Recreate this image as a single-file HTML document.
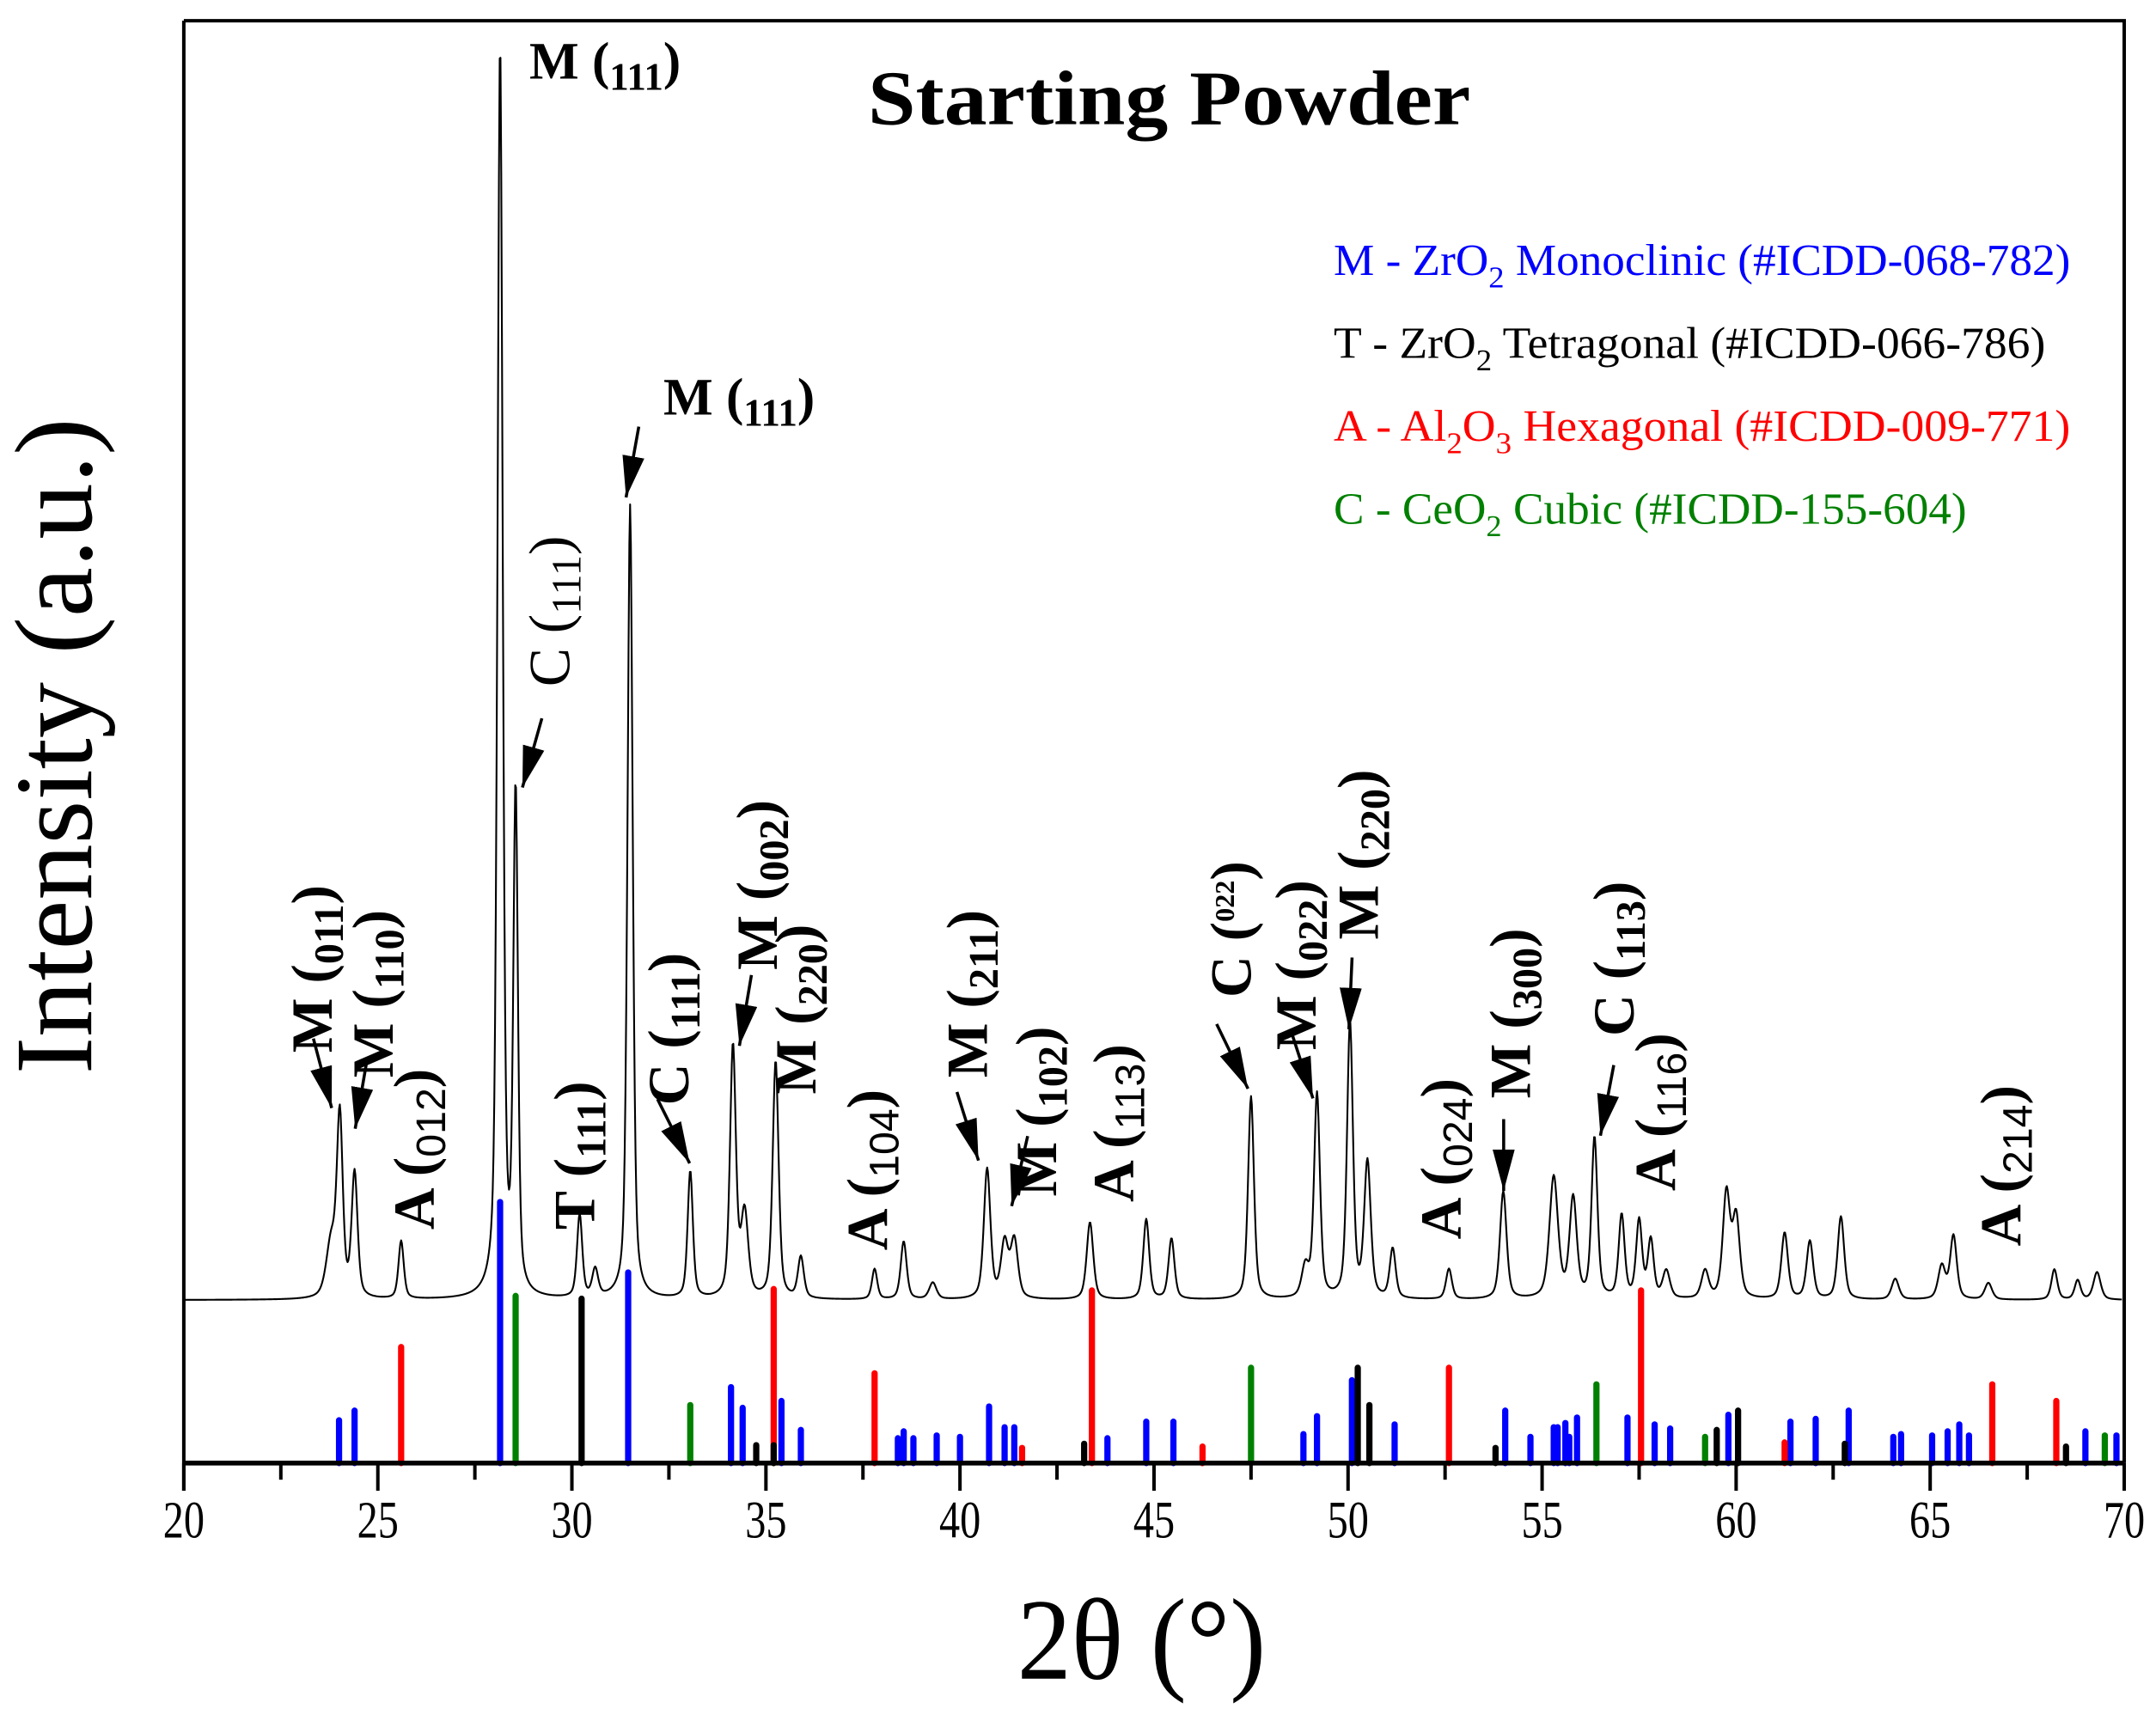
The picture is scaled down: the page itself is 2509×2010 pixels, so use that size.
<!DOCTYPE html>
<html><head><meta charset="utf-8"><style>
html,body{margin:0;padding:0;background:#fff;}
svg{display:block;}
text{font-family:"Liberation Serif",serif;}
</style></head><body>
<svg id="chart" width="2509" height="2010" viewBox="0 0 1560 1250" preserveAspectRatio="none" xmlns="http://www.w3.org/2000/svg">
<defs><marker id="ah" viewBox="0 0 10 10" refX="10" refY="5" markerUnits="userSpaceOnUse" markerWidth="30" markerHeight="16" preserveAspectRatio="none" orient="auto"><path d="M0,0 L10,5 L0,10 Z" fill="#000"/></marker></defs>
<g id="sticks"></g>
<path id="curve" fill="none" stroke="#000" stroke-width="1.3" stroke-linejoin="round"/>
<g id="axes"></g>
<text x="846" y="90" text-anchor="middle" font-weight="bold" font-size="56" textLength="436" lengthAdjust="spacingAndGlyphs">Starting Powder</text>
<text x="826" y="1215" text-anchor="middle" font-size="84" textLength="180" lengthAdjust="spacingAndGlyphs">2θ (°)</text>
<text transform="translate(66,540) rotate(-90)" text-anchor="middle" font-size="80" textLength="475" lengthAdjust="spacingAndGlyphs">Intensity (a.u.)</text>
<g font-size="32">
<text x="965" y="199" fill="#0000ff" textLength="533" lengthAdjust="spacingAndGlyphs">M - ZrO<tspan font-size="22" dy="9">2</tspan><tspan dy="-9"> Monoclinic (#ICDD-068-782)</tspan></text>
<text x="965" y="259" fill="#000" textLength="515" lengthAdjust="spacingAndGlyphs">T - ZrO<tspan font-size="22" dy="9">2</tspan><tspan dy="-9"> Tetragonal (#ICDD-066-786)</tspan></text>
<text x="965" y="319" fill="#ff0000" textLength="533" lengthAdjust="spacingAndGlyphs">A - Al<tspan font-size="22" dy="9">2</tspan><tspan dy="-9">O</tspan><tspan font-size="22" dy="9">3</tspan><tspan dy="-9"> Hexagonal (#ICDD-009-771)</tspan></text>
<text x="965" y="379" fill="#008000" textLength="458" lengthAdjust="spacingAndGlyphs">C - CeO<tspan font-size="22" dy="9">2</tspan><tspan dy="-9"> Cubic (#ICDD-155-604)</tspan></text>
</g>
<g id="ann"></g>
</svg>
<script>
// ---- data (intensity in arbitrary units above axis) ----
const peakPos =   [23.8,24.02,24.4,25.6,28.15,28.55,30.2,30.6,31.5,33.05,34.15,34.45,35.25,35.9,37.8,38.55,39.3,40.7,41.15,41.4,43.35,44.8,45.45,47.5,48.9,49.2,50.05,50.5,51.15,52.6,54.0,55.3,55.8,56.35,57.05,57.5,57.8,58.2,59.2,59.75,60.0,61.25,61.9,62.7,64.1,65.3,65.6,66.5,68.2,68.8,69.3];
const peakHeight= [40,128,90,42,905,360,60,20,575,92,182,60,172,30,22,42,12,94,40,42,56,58,44,147,22,148,199,98,36,22,78,88,72,116,60,56,42,20,20,76,58,48,42,60,15,24,46,12,22,14,20];
const peakWidth = [0.15,0.09,0.09,0.08,0.08,0.07,0.08,0.09,0.08,0.08,0.09,0.11,0.09,0.09,0.08,0.09,0.11,0.1,0.11,0.11,0.1,0.09,0.09,0.09,0.11,0.09,0.09,0.1,0.09,0.09,0.1,0.13,0.11,0.09,0.09,0.09,0.09,0.11,0.11,0.11,0.11,0.1,0.1,0.1,0.11,0.11,0.1,0.11,0.09,0.09,0.11];
const background = 118;
const mPos=[24.0,24.4,28.15,31.45,34.1,34.4,35.4,35.9,38.4,38.55,38.8,39.4,40.0,40.75,41.15,41.4,43.8,44.8,45.5,48.85,49.2,50.1,51.2,54.05,54.7,55.3,55.4,55.6,55.7,55.9,57.2,57.9,58.3,59.8,61.4,62.05,62.9,64.05,64.25,65.05,65.45,65.75,66.0,69.0,69.8];
const mInt=[31,38,189,138,55,40,45,24,18,23,18,20,19,41,26,26,18,30,30,21,34,60,28,38,19,26,26,29,19,33,33,28,25,35,30,32,38,19,21,20,23,28,20,23,20];
const tPos=[30.25,34.75,35.2,43.2,50.25,50.55,53.8,59.5,60.05,62.8,68.5];
const tInt=[119,13,13,14,69,42,11,24,38,14,12];
const aPos=[25.6,35.2,37.8,41.6,43.4,46.25,52.6,57.55,61.25,66.6,68.25];
const aInt=[84,126,65,11,125,12,69,125,15,57,45];
const cPos=[28.55,33.05,47.5,56.4,59.2,69.5];
const cInt=[121,42,69,57,19,20];
const xTicks=[20,25,30,35,40,45,50,55,60,65,70];

const NS="http://www.w3.org/2000/svg";
const X0=133,X1=1537,Y0=1059,YT=15;
function sx(v){return X0+(v-20)*(X1-X0)/50;}
function sy(v){return Y0-v;}
function mk(tag,attrs,parent){const e=document.createElementNS(NS,tag);for(const k in attrs)e.setAttribute(k,attrs[k]);parent.appendChild(e);return e;}

// curve
let d="";
for(let t=20;t<=69.95;t+=0.02){
  let v=background;
  for(let i=0;i<peakPos.length;i++){const u=(t-peakPos[i])/peakWidth[i];v+=peakHeight[i]/(1+u*u)*0.5+peakHeight[i]*Math.exp(-u*u*0.69)*0.5;}
  d+=(d?"L":"M")+sx(t).toFixed(2)+","+sy(v).toFixed(2);
}
document.getElementById('curve').setAttribute('d',d);

// sticks
const sg=document.getElementById('sticks');
function sticks(pos,ints,col,name){
  for(let i=0;i<pos.length;i++){
    const l=mk('line',{x1:sx(pos[i]),x2:sx(pos[i]),y1:Y0,y2:sy(ints[i]),stroke:col,'stroke-width':4.5,'stroke-linecap':'round'},sg);
    
    
  }
}
sticks(mPos,mInt,'#0000ff','stick-monoclinic');
sticks(aPos,aInt,'#ff0000','stick-hexagonal');
sticks(cPos,cInt,'#008000','stick-cubic');
sticks(tPos,tInt,'#000000','stick-tetragonal');

// axes
const ag=document.getElementById('axes');
const fr=mk('path',{d:`M${X0},${YT}H${X1}V${Y0}`,fill:'none',stroke:'#000','stroke-width':2.5},ag);


const ya=mk('line',{x1:X0,x2:X0,y1:YT,y2:Y0+20,stroke:'#000','stroke-width':2.5},ag);


const xa=mk('line',{x1:X0,x2:X1,y1:Y0,y2:Y0,stroke:'#000','stroke-width':3.5},ag);


for(let i=0;i<xTicks.length;i++){
  const x=sx(xTicks[i]);
  const tk=mk('line',{x1:x,x2:x,y1:Y0,y2:Y0+20,stroke:'#000','stroke-width':2.5},ag);
  
  
  const tl=mk('text',{x:x,y:Y0+54,'text-anchor':'middle','font-size':38,textLength:30,lengthAdjust:'spacingAndGlyphs'},ag);
  tl.textContent=xTicks[i];
  
  
  if(i<xTicks.length-1){
    const xm=sx(xTicks[i]+2.5);
    const mt=mk('line',{x1:xm,x2:xm,y1:Y0,y2:Y0+12,stroke:'#000','stroke-width':2.5},ag);
    
    
  }
}

function arrow(a){
  const dx=a[2]-a[0],dy=a[3]-a[1],len=Math.hypot(dx,dy),L=52;
  const x1=a[2]-dx/len*L,y1=a[3]-dy/len*L;
  const ar=mk('line',{x1:x1,y1:y1,x2:a[2],y2:a[3],stroke:'#000','stroke-width':2.2,'marker-end':'url(#ah)'},ann);
  
  
}

// annotations: [letter, index, cx, ybottom, rotated, subStyle, arrow]
const ann=document.getElementById('ann');
const labels=[
 ['M','011',226,762,1,'b',[230,764,240,802]],
 ['M','110',270,780,1,'b',[263,782,257,817]],
 ['A','012',300,890,1,'s',null],
 ['C','111',398,497,1,'r',[387,538,378,570]],
 ['T','111',416,890,1,'b',null],
 ['C','111',484,800,1,'b',[482,808,499,842]],
 ['M','002',548,702,1,'b',[544,704,535,757]],
 ['M','220',576,792,1,'b',null],
 ['A','104',628,905,1,'s',null],
 ['M','211',700,780,1,'b',[697,805,708,840]],
 ['M','102',750,866,1,'b',[740,838,732,873]],
 ['A','113',806,870,1,'s',null],
 ['C','022',891,722,1,'sup',[887,755,903,788]],
 ['M','022',938,760,1,'b',[937,755,950,795]],
 ['M','220',983,680,1,'b',[978,700,976,745]],
 ['A','024',1043,897,1,'s',null],
 ['M','300',1093,795,1,'b',[1088,824,1088,862]],
 ['C','113',1168,750,1,'b',[1165,785,1158,822]],
 ['A','116',1198,862,1,'s',null],
 ['A','214',1448,902,1,'s',null]
];
for(const L of labels){
  const t=mk('text',{transform:`translate(${L[2]+14},${L[3]}) rotate(-90)`,'font-weight':'bold','font-size':42},ann);
  
  
  const st=L[5];
  t.setAttribute('font-weight', st==='r' ? 'normal':'bold');
  const a=document.createElementNS(NS,'tspan');a.textContent=L[0]+' (';t.appendChild(a);
  const s=document.createElementNS(NS,'tspan');s.textContent=L[1];
  s.setAttribute('font-size',30);
  s.setAttribute('dy', st==='sup' ? -12 : 8);
  if(st==='s'){s.setAttribute('font-family','Liberation Sans, sans-serif');s.setAttribute('font-weight','normal');}
  if(st==='sup'){s.setAttribute('font-size',20);}
  t.appendChild(s);
  const c=document.createElementNS(NS,'tspan');c.textContent=')';c.setAttribute('dy',st==='sup'?12:-8);t.appendChild(c);
  if(L[6]) arrow(L[6]);
}
// horizontal labels
const hl=[['M','111',383,57,null],['M','111',480,300,[462,310,453,360]]];
for(const H of hl){
  const t=mk('text',{x:H[2],y:H[3],'font-weight':'bold','font-size':38},ann);
  
  
  const a=document.createElementNS(NS,'tspan');a.textContent=H[0]+' (';t.appendChild(a);
  const s=document.createElementNS(NS,'tspan');s.textContent=H[1];s.setAttribute('font-size',28);s.setAttribute('dy',8);t.appendChild(s);
  const c=document.createElementNS(NS,'tspan');c.textContent=')';c.setAttribute('dy',-8);t.appendChild(c);
  if(H[4]) arrow(H[4]);
}
</script>
</body></html>
